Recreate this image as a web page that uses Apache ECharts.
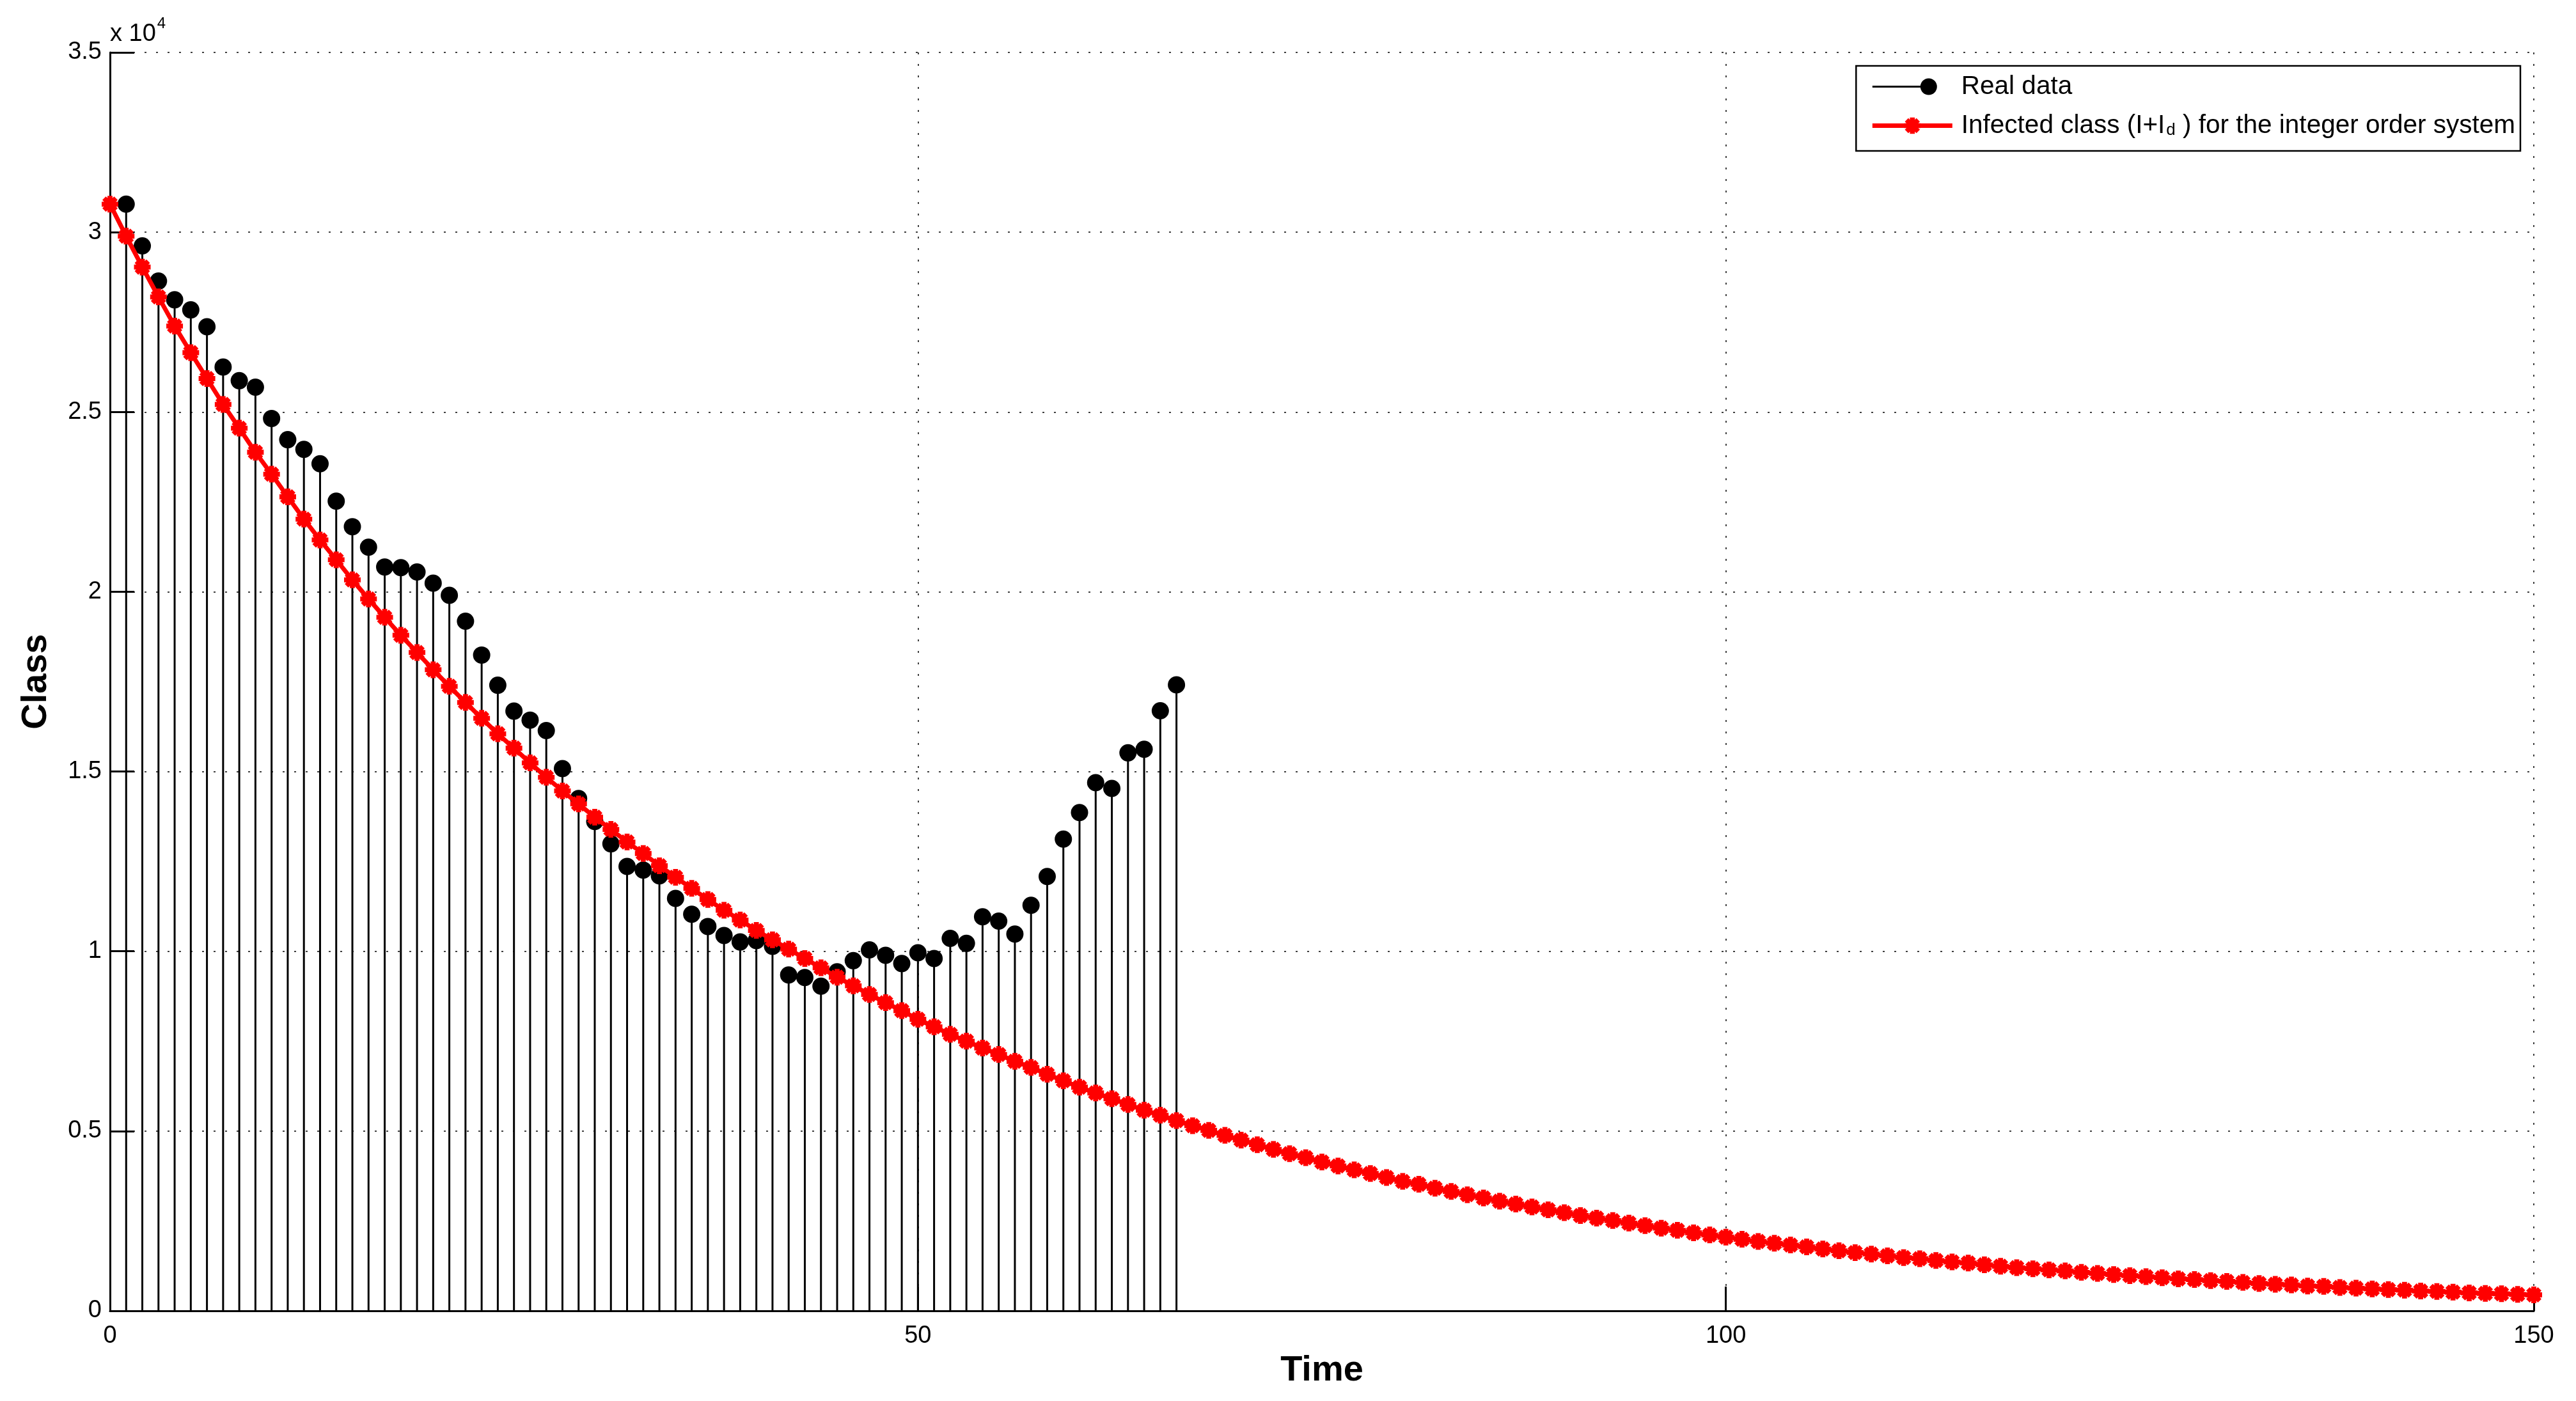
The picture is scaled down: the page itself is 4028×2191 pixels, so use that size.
<!DOCTYPE html>
<html>
<head>
<meta charset="utf-8">
<script src="https://cdn.jsdelivr.net/npm/echarts@6/dist/echarts.min.js"></script>
<style>
html,body{margin:0;padding:0;background:#fff;}
#chart{width:4028px;height:2191px;}
</style>
</head>
<body>
<div id="chart"></div>
<script>
// Real data (days 1..66)
const realDays = [1,2,3,4,5,6,7,8,9,10,11,12,13,14,15,16,17,18,19,20,21,22,23,24,25,26,27,28,29,30,31,32,33,34,35,36,37,38,39,40,41,42,43,44,45,46,47,48,49,50,51,52,53,54,55,56,57,58,59,60,61,62,63,64,65,66];
const realValues = [30780,29620,28640,28120,27840,27370,26250,25870,25690,24820,24230,23960,23560,22520,21810,21240,20690,20670,20550,20240,19900,19180,18240,17400,16680,16430,16140,15080,14250,13610,12990,12360,12260,12100,11470,11030,10690,10440,10260,10300,10140,9340,9270,9030,9430,9740,10040,9890,9660,9960,9800,10360,10220,10960,10840,10480,11280,12080,13120,13860,14690,14530,15520,15620,16690,17410];
// Model: infected class (I+Id), integer order system, day 0..150
const modelValues = [30780,29890,29030,28200,27390,26650,25930,25210,24550,23880,23270,22640,22020,21440,20890,20330,19800,19290,18790,18310,17830,17370,16920,16480,16050,15650,15240,14840,14460,14100,13730,13390,13040,12720,12380,12060,11750,11440,11140,10870,10580,10320,10060,9800,9540,9280,9040,8800,8570,8350,8110,7900,7690,7500,7310,7130,6940,6770,6580,6400,6220,6060,5900,5740,5580,5440,5290,5150,5020,4880,4750,4620,4490,4370,4260,4140,4030,3920,3820,3710,3600,3520,3410,3320,3230,3140,3050,2970,2890,2810,2730,2650,2580,2510,2440,2370,2300,2240,2170,2110,2050,1990,1930,1880,1830,1780,1720,1670,1620,1580,1530,1480,1450,1400,1360,1330,1280,1240,1200,1170,1140,1110,1070,1040,1010,980,950,920,890,870,840,820,790,760,740,720,690,680,650,630,610,590,575,550,540,520,500,485,475,457,445];
const xTicks = [0,50,100,150];
const yTickLabels = ['0','0.5','1','1.5','2','2.5','3','3.5'];

const realName = 'Real data';
const modelName = 'Infected class (I+Id) for the integer order system';
const FONT = '"Liberation Sans", Arial, Helvetica, sans-serif';

const realPairs = realDays.map((d, i) => [d, realValues[i]]);
const modelPairs = modelValues.map((v, i) => [i, v]);

const starPath = 'path://M0,35 L100,35 L100,65 L0,65 Z M35,0 L65,0 L65,100 L35,100 Z M25.25,4.03 L95.97,74.75 L74.75,95.97 L4.03,25.25 Z M4.03,74.75 L74.75,4.03 L95.97,25.25 L25.25,95.97 Z';
// legend icon for the stem series: line ending in a filled circle (125 x 32 box)
const stemIcon = 'path://M0,0 L0.01,0 L0,0.01 Z M125,32 L124.99,32 L125,31.99 Z M0,14.5 L80,14.5 L80,17.5 L0,17.5 Z M75,16 A13,13 0 1,1 101,16 A13,13 0 1,1 75,16 Z';

const chart = echarts.init(document.getElementById('chart'), null, {renderer: 'canvas'});
chart.setOption({
  animation: false,
  backgroundColor: '#ffffff',
  textStyle: {fontFamily: FONT, color: '#000'},
  grid: {left: 172, right: 66, top: 82, bottom: 141, containLabel: false},
  legend: {
    orient: 'vertical',
    right: 87,
    top: 103,
    padding: [12, 8, 19, 22],
    itemGap: 1,
    itemWidth: 125,
    itemHeight: 32,
    symbolKeepAspect: true,
    backgroundColor: '#fff',
    borderColor: '#000',
    borderWidth: 2.5,
    borderRadius: 0,
    textStyle: {
      fontFamily: FONT, color: '#000', fontSize: 40.5,
      rich: {
        f: {fontFamily: FONT, fontSize: 40.5, color: '#000', verticalAlign: 'top', lineHeight: 41, padding: [0, 0, 0, 9]},
        m: {fontFamily: FONT, fontSize: 40.5, color: '#000', verticalAlign: 'top', lineHeight: 41},
        s: {fontFamily: FONT, fontSize: 26, color: '#000', verticalAlign: 'bottom', lineHeight: 26, padding: [34, 0, 0, 2]}
      }
    },
    formatter: function (name) {
      if (name === realName) return '{f|Real data}';
      return '{f|Infected class (I+I}{s|d}{m| ) for the integer order system}';
    },
    data: [
      {name: realName, icon: stemIcon, itemStyle: {color: '#000'}},
      {name: modelName, lineStyle: {width: 7, color: '#ff0000'}}
    ]
  },
  xAxis: {
    type: 'value', min: xTicks[0], max: xTicks[xTicks.length - 1], interval: 50,
    axisLine: {onZero: false, lineStyle: {color: '#000', width: 3}},
    axisTick: {inside: true, length: 38, lineStyle: {color: '#000', width: 3}},
    axisLabel: {color: '#000', fontSize: 38, margin: 21, fontFamily: FONT},
    splitLine: {show: true, lineStyle: {color: '#000', type: [3, 15], width: 1.5}},
    name: 'Time', nameLocation: 'middle', nameGap: 66,
    nameTextStyle: {fontSize: 56, fontWeight: 'bold', color: '#000', fontFamily: FONT}
  },
  yAxis: [{
    type: 'value', min: 0, max: 35000, interval: 5000,
    axisLine: {show: true, onZero: false, lineStyle: {color: '#000', width: 3}},
    axisTick: {show: true, inside: true, length: 38, lineStyle: {color: '#000', width: 3}},
    axisLabel: {color: '#000', fontSize: 38, margin: 13, fontFamily: FONT,
      formatter: function (v) { return yTickLabels[Math.round(v / 5000)]; }},
    splitLine: {show: true, lineStyle: {color: '#000', type: [3, 15], width: 1.5}},
    name: '{a|x 10}{b|4}', nameLocation: 'end', nameGap: 9,
    nameTextStyle: {
      align: 'left', verticalAlign: 'bottom', color: '#000', fontFamily: FONT,
      rich: {
        a: {fontSize: 38, verticalAlign: 'bottom', color: '#000', fontFamily: FONT},
        b: {fontSize: 24, verticalAlign: 'top', color: '#000', fontFamily: FONT, padding: [0, 0, 24, 2]}
      }
    }
  }, {
    type: 'value', min: 0, max: 35000, interval: 5000, position: 'left',
    axisLine: {show: false}, axisTick: {show: false}, axisLabel: {show: false}, splitLine: {show: false},
    name: 'Class', nameLocation: 'middle', nameGap: 87,
    nameTextStyle: {fontSize: 56, fontWeight: 'bold', color: '#000', fontFamily: FONT}
  }],
  series: [
    {
      name: 'stems', type: 'bar', data: realPairs, barWidth: 3,
      itemStyle: {color: '#000'}, silent: true, z: 2
    },
    {
      name: realName, type: 'line', data: realPairs,
      symbol: 'circle', symbolSize: 27, showAllSymbol: true,
      itemStyle: {color: '#000'},
      lineStyle: {opacity: 0, width: 3, color: '#000'},
      z: 3
    },
    {
      name: modelName, type: 'line', data: modelPairs,
      symbol: starPath, symbolSize: 26, showAllSymbol: true,
      itemStyle: {color: '#ff0000'},
      lineStyle: {color: '#ff0000', width: 7},
      z: 4
    }
  ]
});
</script>
</body>
</html>
